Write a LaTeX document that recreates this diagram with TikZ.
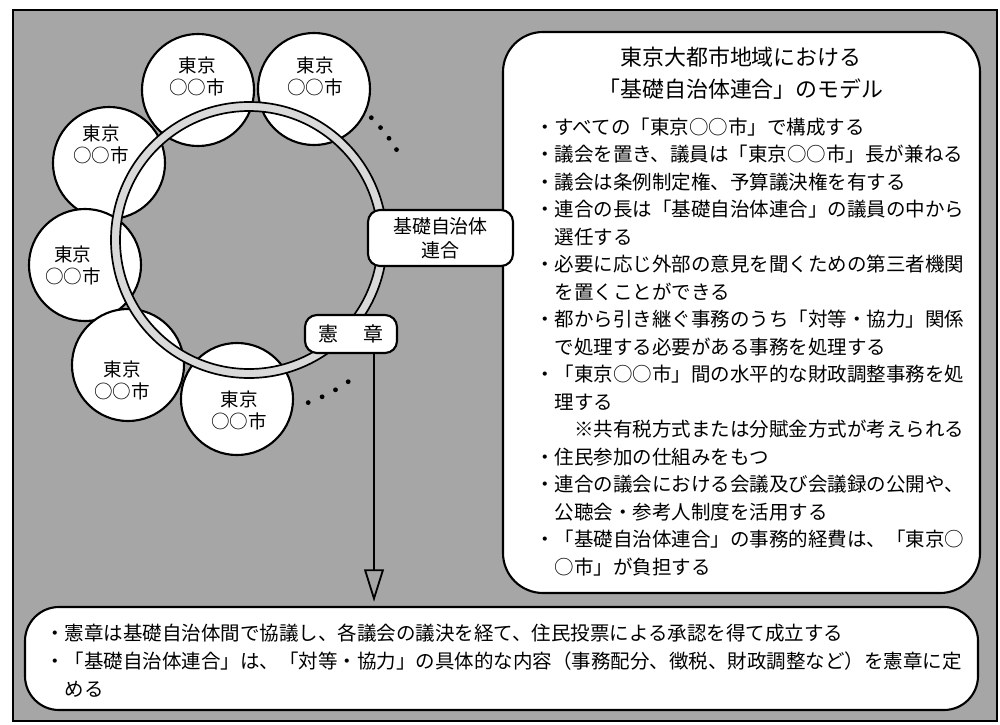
\documentclass[tikz,border=0pt]{standalone}
\usepackage{fontspec}
\setmainfont{Noto Sans CJK JP}
\usetikzlibrary{arrows.meta,fit}
\begin{document}
\begin{tikzpicture}[x=0.025cm,y=-0.025cm,
  bgfill/.style={fill=black!35},
  frameline/.style={draw=black,line width=1pt},
  box/.style={draw=black,fill=white,line width=1.5pt,inner sep=0pt},
  city/.style={circle,draw=black,fill=white,line width=1.5pt,minimum size=2.8cm,inner sep=0pt},
  citytext/.style={align=center,inner sep=0pt,font=\fontsize{13.2pt}{15.6pt}\selectfont},
  bodytext/.style={anchor=west,inner sep=0pt,font=\fontsize{13.87pt}{16pt}\selectfont},
  titletext/.style={inner sep=0pt,font=\fontsize{15.6pt}{18pt}\selectfont},
  labeltext/.style={align=center,font=\fontsize{13.5pt}{17pt}\selectfont},
  edot/.style={circle,fill=black,inner sep=0pt,minimum size=0.12cm},
  ringband/.style={fill=black!15,even odd rule},
  ringline/.style={draw=black,line width=1.2pt},
  connector/.style={draw=black,line width=1.3pt,shorten >=3pt,-{Triangle[open,length=23pt,width=14pt]}},
]
\useasboundingbox (0,0) rectangle (1000,724);
\fill[white] (0,0) rectangle (1000,724);
\path[bgfill,frameline] (13,10) rectangle (997,721);

% city circles
\node[city] (cA) at (198,90) {};
\node[city] (cB) at (314,89) {};
\node[city] (cC) at (109,163) {};
\node[city] (cD) at (85,265) {};
\node[city] (cE) at (128,365) {};
\node[city] (cF) at (237,399) {};

% ring
\coordinate (ringc) at (249,240);
\fill[ringband] (ringc) circle[radius=138] (ringc) circle[radius=129];
\draw[ringline] (ringc) circle[radius=138];
\draw[ringline] (ringc) circle[radius=129];

% city texts
\node[citytext] (tA) at (197,76) {東京\\○○市};
\node[citytext] (tB) at (315,76) {東京\\○○市};
\node[citytext] (tC) at (101,144) {東京\\○○市};
\node[citytext] (tD) at (73,265) {東京\\○○市};
\node[citytext] (tE) at (122,380) {東京\\○○市};
\node[citytext] (tF) at (239,410) {東京\\○○市};

% ellipsis dots
\node[edot] (d1) at (371.3,117.7) {};
\node[edot] (d2) at (380.5,127.6) {};
\node[edot] (d3) at (389.0,138.3) {};
\node[edot] (d4) at (396.5,149.6) {};
\node[edot] (d5) at (308.2,402.6) {};
\node[edot] (d6) at (322.1,396.8) {};
\node[edot] (d7) at (335.5,389.8) {};
\node[edot] (d8) at (348.2,381.7) {};

% main boxes
\node[box,fit={(503,32) (980,593)},rounded corners=1cm] (rightbox) {};
\node[box,fit={(25,607) (978,710)},rounded corners=0.85cm] (botbox) {};

% label boxes
\node[box,rounded corners=0.3cm,minimum width=3.625cm,minimum height=1.4cm,labeltext] (renkou) at (440.5,238) {基礎自治体\\連合};
\node[box,rounded corners=0.3cm,minimum width=2.3cm,minimum height=0.95cm,font=\fontsize{14.2pt}{17pt}\selectfont] (kensho) at (351,334) {憲\hspace{1.25em}章};

% arrow
\path (kensho.south) ++(23,0) coordinate (kshaft);
\draw[connector] (kshaft) -- (kshaft |- botbox.north);

% right box text
\node[titletext] (title1) at (741,57) {東京大都市地域における};
\node[titletext] (title2) at (741,89) {「基礎自治体連合」のモデル};
\node[bodytext] (r1) at (535,127) {・すべての「東京○○市」で構成する};
\node[bodytext] (r2) at (535,154.5) {・議会を置き、議員は「東京○○市」長が兼ねる};
\node[bodytext] (r3) at (535,182) {・議会は条例制定権、予算議決権を有する};
\node[bodytext] (r4) at (535,209.5) {・連合の長は「基礎自治体連合」の議員の中から};
\node[bodytext] (r5) at (554.5,237) {選任する};
\node[bodytext] (r6) at (535,264.5) {・必要に応じ外部の意見を聞くための第三者機関};
\node[bodytext] (r7) at (554.5,292) {を置くことができる};
\node[bodytext] (r8) at (535,319.5) {・都から引き継ぐ事務のうち「対等・協力」関係};
\node[bodytext] (r9) at (554.5,347) {で処理する必要がある事務を処理する};
\node[bodytext] (r10) at (535,374.5) {・「東京○○市」間の水平的な財政調整事務を処};
\node[bodytext] (r11) at (554.5,402) {理する};
\node[bodytext] (r12) at (574,429.5) {※共有税方式または分賦金方式が考えられる};
\node[bodytext] (r13) at (535,457) {・住民参加の仕組みをもつ};
\node[bodytext] (r14) at (535,484.5) {・連合の議会における会議及び会議録の公開や、};
\node[bodytext] (r15) at (554.5,512) {公聴会・参考人制度を活用する};
\node[bodytext] (r16) at (535,539.5) {・「基礎自治体連合」の事務的経費は、「東京○};
\node[bodytext] (r17) at (554.5,567) {○市」が負担する};

% bottom box text
\node[bodytext] (b1) at (45,633) {・憲章は基礎自治体間で協議し、各議会の議決を経て、住民投票による承認を得て成立する};
\node[bodytext] (b2) at (45,661) {・「基礎自治体連合」は、「対等・協力」の具体的な内容（事務配分、徴税、財政調整など）を憲章に定};
\node[bodytext] (b3) at (64.5,689) {める};
\end{tikzpicture}
\end{document}
